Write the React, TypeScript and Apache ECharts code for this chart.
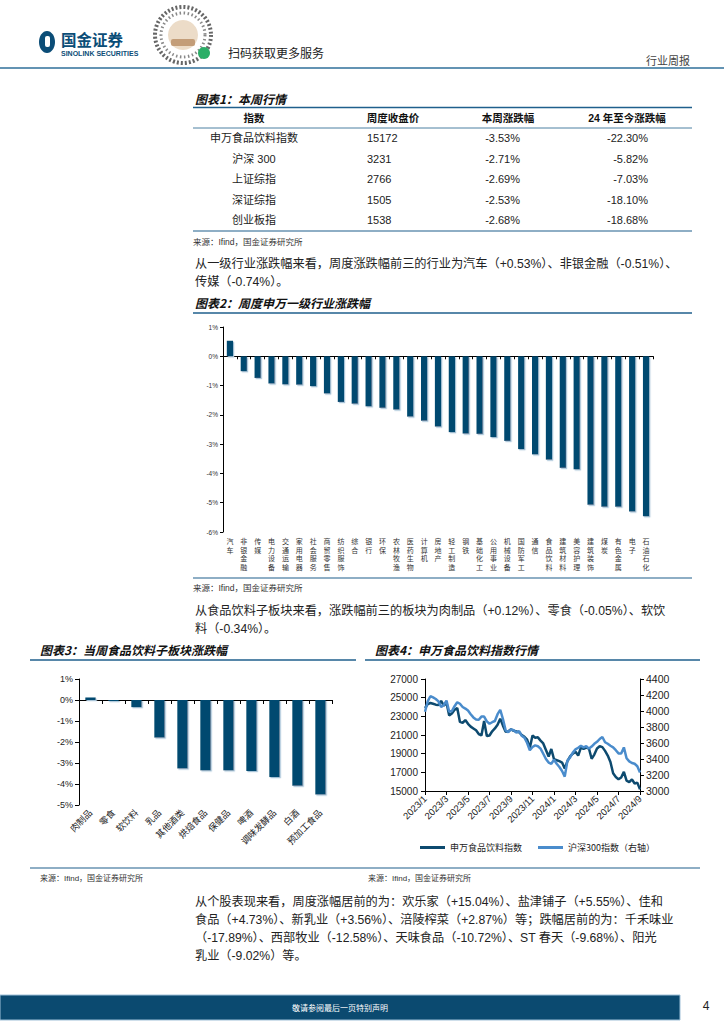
import React, { useEffect, useRef } from 'react';
import * as echarts from 'echarts';

// ---------- DATA ----------
const tableHeaders = ['指数', '周度收盘价', '本周涨跌幅', '24 年至今涨跌幅'];
const tableIndices = ['申万食品饮料指数', '沪深 300', '上证综指', '深证综指', '创业板指'];
const tableClose = ['15172', '3231', '2766', '1505', '1538'];
const tableWeek = ['-3.53%', '-2.71%', '-2.69%', '-2.53%', '-2.68%'];
const tableYtd = ['-22.30%', '-5.82%', '-7.03%', '-18.10%', '-18.68%'];

const industries = ['汽车', '非银金融', '传媒', '电力设备', '交通运输', '家用电器', '社会服务', '商贸零售', '纺织服饰', '综合', '银行', '环保', '农林牧渔', '医药生物', '计算机', '房地产', '轻工制造', '钢铁', '基础化工', '公用事业', '机械设备', '国防军工', '通信', '食品饮料', '建筑材料', '美容护理', '建筑装饰', '煤炭', '有色金属', '电子', '石油石化'];
const industryChange = [0.53, -0.51, -0.74, -0.93, -0.96, -0.97, -1.02, -1.27, -1.56, -1.62, -1.71, -1.76, -1.82, -2.06, -2.2, -2.4, -2.59, -2.64, -2.65, -2.76, -2.89, -3.17, -3.35, -3.53, -3.81, -3.86, -5.07, -5.14, -5.14, -5.3, -5.46];
const industryTicks = [1, 0, -1, -2, -3, -4, -5, -6];

const subsectors = ['肉制品', '零食', '软饮料', '乳品', '其他酒类', '烘焙食品', '保健品', '啤酒', '调味发酵品', '白酒', '预加工食品'];
const subsectorChange = [0.12, -0.05, -0.34, -1.79, -3.26, -3.35, -3.35, -3.38, -3.67, -4.08, -4.5];

const indexTickLabels = ['2023/1', '2023/3', '2023/5', '2023/7', '2023/9', '2023/11', '2024/1', '2024/3', '2024/5', '2024/7', '2024/9'];
const foodIndex = [23900, 24300, 24430, 24350, 24250, 24200, 24650, 24150, 24450, 23100, 23300, 23700, 23900, 22400, 22300, 22600, 22200, 21900, 21700, 21500, 21100, 20950, 22500, 20900, 20950, 21400, 21700, 22100, 22750, 22000, 21350, 21400, 21600, 21450, 21380, 21300, 21000, 20800, 20500, 19600, 20950, 20700, 20750, 20400, 20100, 19400, 18700, 19500, 18400, 18300, 18200, 18050, 17400, 18200, 18700, 19000, 19200, 18800, 19650, 19500, 19650, 19550, 18450, 18900, 19550, 19800, 19700, 19300, 18800, 18100, 16900, 16500, 16250, 16450, 17050, 16100, 15950, 16250, 15800, 15900, 15172];
const hs300 = [3990, 4120, 4185, 4170, 4150, 4120, 4050, 4075, 4130, 3990, 4000, 4060, 4110, 4090, 4050, 4030, 4005, 3960, 3920, 3895, 3890, 3930, 3930, 3870, 3840, 3860, 3875, 3960, 4015, 3900, 3760, 3735, 3770, 3760, 3730, 3750, 3690, 3665, 3600, 3510, 3550, 3570, 3560, 3530, 3465, 3400, 3355, 3340, 3390, 3340, 3300, 3250, 3180, 3380, 3420, 3480, 3520, 3540, 3565, 3545, 3560, 3530, 3555, 3590, 3615, 3650, 3675, 3610, 3590, 3565, 3545, 3510, 3470, 3470, 3545, 3410, 3370, 3350, 3340, 3310, 3231];
const seriesNames = ['申万食品饮料指数', '沪深300指数（右轴）'];

const para1 = ['从一级行业涨跌幅来看，周度涨跌幅前三的行业为汽车（+0.53%）、非银金融（-0.51%）、', '传媒（-0.74%）。'];
const para2 = ['从食品饮料子板块来看，涨跌幅前三的板块为肉制品（+0.12%）、零食（-0.05%）、软饮', '料（-0.34%）。'];
const para3 = ['从个股表现来看，周度涨幅居前的为：欢乐家（+15.04%）、盐津铺子（+5.55%）、佳和', '食品（+4.73%）、新乳业（+3.56%）、涪陵榨菜（+2.87%）等；跌幅居前的为：千禾味业', '（-17.89%）、西部牧业（-12.58%）、天味食品（-10.72%）、ST 春天（-9.68%）、阳光', '乳业（-9.02%）等。'];
const sourceText = '来源：Ifind，国金证券研究所';

// ---------- STYLE ----------
const FONT = '"Liberation Sans", "Noto Sans CJK SC", sans-serif';
const CJK = '"Noto Sans CJK SC", sans-serif';
const BAR = '#004a70';
const DARK = '#0d4a6f';
const LIGHT = '#4a8ccc';
const RULE = '#1f5f8c';

function txt(x: number, y: number, text: string, o: any = {}) {
  const align = o.align || 'left';
  return {
    type: 'text', x, y, silent: true,
    style: {
      text, fontSize: o.size || 12, fontFamily: o.family || FONT, fontWeight: o.weight || 'normal',
      fontStyle: o.italic ? 'italic' : 'normal', fill: o.color || '#222',
      align, textAlign: align, verticalAlign: 'middle', textVerticalAlign: 'middle',
    },
  };
}
function hline(x1: number, x2: number, y: number, stroke: string, lineWidth: number) {
  return { type: 'line', silent: true, shape: { x1, y1: y, x2, y2: y }, style: { stroke, lineWidth } };
}

function buildGraphics() {
  const g: any[] = [];
  // header
  g.push({ type: 'ellipse', shape: { cx: 47, cy: 42, rx: 8, ry: 11 }, style: { fill: '#0b4d77' } });
  g.push({ type: 'rect', shape: { x: 45, y: 36, width: 5, height: 11, r: 2 }, style: { fill: '#fff' } });
  g.push(txt(61, 38.5, '国金证券', { size: 15.5, weight: 'bold', color: '#0b4d77', family: CJK }));
  g.push(txt(61, 53, 'SINOLINK SECURITIES', { size: 7, weight: 'bold', color: '#0b4d77' }));
  g.push({ type: 'circle', shape: { cx: 183, cy: 35, r: 28 }, style: { fill: '#fff', stroke: '#666', lineWidth: 4, lineDash: [2, 2] } });
  g.push({ type: 'circle', shape: { cx: 183, cy: 35, r: 22 }, style: { fill: 'none', stroke: '#888', lineWidth: 3, lineDash: [1.5, 2.5] } });
  g.push({ type: 'circle', shape: { cx: 183, cy: 35, r: 15 }, style: { fill: '#ecdcc8' } });
  g.push({ type: 'rect', shape: { x: 171, y: 39, width: 24, height: 7, r: 2 }, style: { fill: '#c39d78' } });
  g.push({ type: 'circle', shape: { cx: 204, cy: 53, r: 6 }, style: { fill: '#2aae67' } });
  g.push(txt(228, 52, '扫码获取更多服务', { size: 12, family: CJK, color: '#222' }));
  g.push(txt(690, 60, '行业周报', { size: 11, family: CJK, color: '#444', align: 'right' }));
  g.push(hline(0, 724, 68, '#2f6f9a', 1.5));

  // table
  g.push(txt(195, 98, '图表1：本周行情', { size: 12, weight: 'bold', italic: true, family: CJK, color: '#111' }));
  g.push(hline(193, 692, 107.5, RULE, 1.5));
  const colX = [254, 393, 508, 627];
  tableHeaders.forEach((h, i) => g.push(txt(colX[i], 118, h, { size: 10.5, weight: 'bold', align: 'center', color: '#111' })));
  g.push(hline(193, 692, 128, RULE, 0.8));
  const rowY = [138, 159, 179, 200, 220];
  tableIndices.forEach((name, r) => {
    g.push(txt(colX[0], rowY[r], name, { size: 11, align: 'center', color: '#222' }));
    g.push(txt(367, rowY[r], tableClose[r], { size: 11, color: '#222' }));
    g.push(txt(520, rowY[r], tableWeek[r], { size: 11, align: 'right', color: '#222' }));
    g.push(txt(648, rowY[r], tableYtd[r], { size: 11, align: 'right', color: '#222' }));
  });
  g.push(hline(193, 692, 231, RULE, 1.2));
  g.push(txt(193, 242, sourceText, { size: 8.5, color: '#333' }));

  para1.forEach((t, i) => g.push(txt(195, 264 + i * 18, t, { size: 12.2 })));
  g.push(txt(195, 302, '图表2：周度申万一级行业涨跌幅', { size: 12, weight: 'bold', italic: true, family: CJK, color: '#111' }));
  g.push(hline(193, 692, 313, RULE, 1.5));
  g.push(hline(193, 692, 578, RULE, 1.2));
  g.push(txt(193, 588, sourceText, { size: 8.5, color: '#333' }));

  para2.forEach((t, i) => g.push(txt(195, 611 + i * 18, t, { size: 12.2 })));

  g.push(txt(40, 649, '图表3：当周食品饮料子板块涨跌幅', { size: 12, weight: 'bold', italic: true, family: CJK, color: '#111' }));
  g.push(hline(30, 356, 660, RULE, 1.5));
  g.push(txt(375, 649, '图表4：申万食品饮料指数行情', { size: 12, weight: 'bold', italic: true, family: CJK, color: '#111' }));
  g.push(hline(365, 700, 660, RULE, 1.5));
  g.push(hline(30, 700, 868, RULE, 1.2));
  g.push(txt(40, 878, sourceText, { size: 8, color: '#333' }));
  g.push(txt(368, 878, sourceText, { size: 8, color: '#333' }));

  para3.forEach((t, i) => g.push(txt(195, 902 + i * 18, t, { size: 12.2 })));

  // footer
  g.push({ type: 'rect', silent: true, shape: { x: 0, y: 995, width: 680, height: 25 }, style: { fill: '#0b4a70', stroke: '#9fc0d8', lineWidth: 1 } });
  g.push(txt(340, 1007.5, '敬请参阅最后一页特别声明', { size: 8, color: '#fff', align: 'center', family: CJK }));
  g.push(txt(706, 1006, '4', { size: 12, align: 'center', color: '#222' }));
  return g;
}

const plain = (v: number) => String(v);

export default function App() {
  const ref = useRef<HTMLDivElement>(null);
  useEffect(() => {
    if (!ref.current) return;
    const chart = echarts.init(ref.current, null, { renderer: 'svg' });
    const option: any = {
      animation: false,
      backgroundColor: '#fff',
      grid: [
        { left: 223, top: 327, width: 430, height: 205 },
        { left: 79, top: 679, width: 253, height: 126 },
        { left: 425, top: 679, width: 215, height: 112 },
      ],
      xAxis: [
        {
          type: 'category', gridIndex: 0, data: industries,
          axisLine: { show: true, onZero: true, lineStyle: { color: '#000', width: 1 } },
          axisTick: { show: true, length: 3, lineStyle: { color: '#000' } },
          axisLabel: {
            interval: 0, margin: 5, fontSize: 7, lineHeight: 8.5, color: '#333', fontFamily: CJK,
            verticalAlign: 'top',
            formatter: (v: string) => v.split('').join('\n'),
          },
        },
        {
          type: 'category', gridIndex: 1, data: subsectors,
          axisLine: { show: true, onZero: true, lineStyle: { color: '#000', width: 1 } },
          axisTick: { show: true, length: 4, lineStyle: { color: '#000' } },
          axisLabel: { interval: 0, rotate: 45, margin: 6, fontSize: 9, color: '#222', fontFamily: CJK },
        },
        {
          type: 'value', gridIndex: 2, min: 0, max: 80, interval: 8,
          splitLine: { show: false },
          axisLine: { show: true, onZero: false, lineStyle: { color: '#000' } },
          axisTick: { show: true, length: 4, lineStyle: { color: '#000' } },
          axisLabel: {
            rotate: 45, fontSize: 9.5, color: '#222', fontFamily: FONT, margin: 6,
            formatter: (v: number) => indexTickLabels[Math.round(v / 8)] ?? '',
          },
        },
      ],
      yAxis: [
        {
          type: 'value', gridIndex: 0, min: industryTicks[industryTicks.length - 1], max: industryTicks[0], interval: 1,
          splitLine: { show: false },
          axisLine: { show: true, lineStyle: { color: '#000' } },
          axisTick: { show: true, length: 3, lineStyle: { color: '#000' } },
          axisLabel: { fontSize: 6.5, color: '#333', fontFamily: FONT, margin: 5, formatter: '{value}%' },
        },
        {
          type: 'value', gridIndex: 1, min: -5, max: 1, interval: 1,
          splitLine: { show: false },
          axisLine: { show: true, lineStyle: { color: '#000' } },
          axisTick: { show: true, length: 4, lineStyle: { color: '#000' } },
          axisLabel: { fontSize: 9, color: '#222', fontFamily: FONT, margin: 6, formatter: '{value}%' },
        },
        {
          type: 'value', gridIndex: 2, min: 15000, max: 27000, interval: 2000,
          splitLine: { show: false },
          axisLine: { show: true, lineStyle: { color: '#000' } },
          axisTick: { show: true, length: 4, lineStyle: { color: '#000' } },
          axisLabel: { fontSize: 10, color: '#222', fontFamily: FONT, margin: 7, formatter: plain },
        },
        {
          type: 'value', gridIndex: 2, position: 'right', min: 3000, max: 4400, interval: 200,
          splitLine: { show: false },
          axisLine: { show: true, lineStyle: { color: '#000' } },
          axisTick: { show: true, length: 4, lineStyle: { color: '#000' } },
          axisLabel: { fontSize: 10.5, color: '#222', fontFamily: FONT, margin: 6, formatter: plain },
        },
      ],
      legend: {
        data: seriesNames, left: 415, top: 838, icon: 'rect', itemWidth: 25, itemHeight: 3, itemGap: 16,
        textStyle: { fontSize: 9, color: '#222', fontFamily: CJK },
      },
      series: [
        {
          type: 'bar', xAxisIndex: 0, yAxisIndex: 0, data: industryChange, barWidth: '45%',
          itemStyle: { color: BAR, shadowColor: '#a8c4d8', shadowOffsetX: 1.2, shadowOffsetY: 1.2, shadowBlur: 0 },
        },
        {
          type: 'bar', xAxisIndex: 1, yAxisIndex: 1, data: subsectorChange, barWidth: '45%',
          itemStyle: { color: BAR, shadowColor: '#a8c4d8', shadowOffsetX: 1.2, shadowOffsetY: 1.2, shadowBlur: 0 },
        },
        {
          name: seriesNames[0], type: 'line', xAxisIndex: 2, yAxisIndex: 2, symbol: 'none',
          data: foodIndex.map((v, i) => [i, v]),
          lineStyle: { width: 2.5, color: DARK }, itemStyle: { color: DARK },
        },
        {
          name: seriesNames[1], type: 'line', xAxisIndex: 2, yAxisIndex: 3, symbol: 'none',
          data: hs300.map((v, i) => [i, v]),
          lineStyle: { width: 2.5, color: LIGHT }, itemStyle: { color: LIGHT },
        },
      ],
      graphic: { elements: buildGraphics() },
    };
    chart.setOption(option);
    return () => chart.dispose();
  }, []);
  return <div ref={ref} style={{ position: 'absolute', left: 0, top: 0, width: 724, height: 1024 }} />;
}
